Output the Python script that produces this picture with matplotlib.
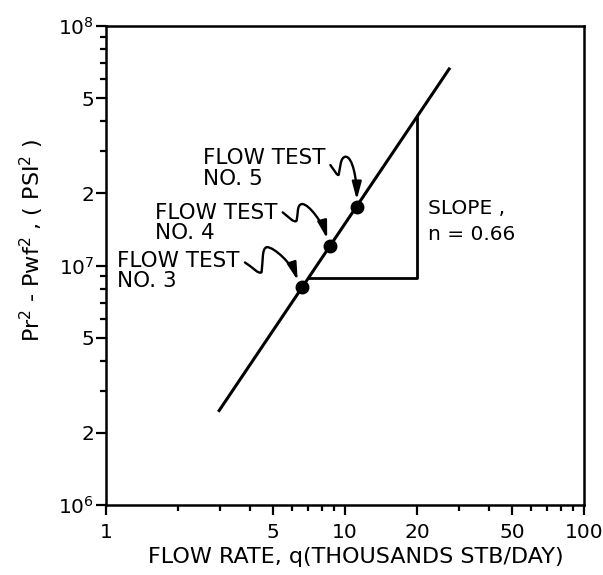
import matplotlib.pyplot as plt
import matplotlib.transforms as mtransforms
from matplotlib.path import Path
from matplotlib.patches import FancyArrowPatch

# ---------------------------
# Data
# ---------------------------
LINE_Q = [2.95, 27.5]            # fitted line end points, thousands STB/day
LINE_DP = [2.45e6, 6.7e7]        # Pr^2 - Pwf^2, psi^2

TEST_Q = [6.6, 8.65, 11.2]       # flow tests 3, 4, 5
TEST_DP = [8.1e6, 1.21e7, 1.76e7]
TEST_NAMES = ["FLOW TEST\nNO. 3", "FLOW TEST\nNO. 4", "FLOW TEST\nNO. 5"]

TRI_Q = [7.05, 20, 20]           # slope triangle
TRI_DP = [8.9e6, 8.9e6, 4.2e7]
SLOPE_TEXT = "SLOPE ,\nn = 0.66"

X_TICKS = [1, 5, 10, 20, 50, 100]
X_LABELS = ["1", "5", "10", "20", "50", "100"]
X_MINOR = [2, 3, 4, 6, 7, 8, 9, 30, 40, 60, 70, 80, 90]
Y_TICKS = [1e6, 2e6, 5e6, 1e7, 2e7, 5e7, 1e8]
Y_LABELS = [r"$\mathregular{10^6}$", "2", "5", r"$\mathregular{10^7}$", "2", "5",
            r"$\mathregular{10^8}$"]
Y_MINOR = [3e6, 4e6, 6e6, 7e6, 8e6, 9e6, 3e7, 4e7, 6e7, 7e7, 8e7, 9e7]

FS = 14.5

# ---------------------------
# Plot
# ---------------------------
fig = plt.figure(figsize=(6.03, 5.75), dpi=100)
ax = fig.add_axes([0.1758, 0.1217, 0.7927, 0.833])
ax.set_xscale("log")
ax.set_yscale("log")
ax.set_xlim(1, 100)
ax.set_ylim(1e6, 1e8)

ax.plot(LINE_Q, LINE_DP, color="black", lw=2.2, solid_capstyle="butt")
ax.plot(TRI_Q, TRI_DP, color="black", lw=2.0)
ax.plot(TEST_Q, TEST_DP, "o", color="black", markersize=9)

# squiggly leader arrows: offsets in points from each test point
# start -> dip -> hump -> arrow tip
squiggles = [
    [(-41, 18), (-36, 15), (-31, 9), (-29, 11),
     (-28, 18), (-29, 29), (-25, 29), (-20, 29), (-7, 17), (-3, 5)],
    [(-34, 24), (-30, 21), (-26, 16), (-24, 18),
     (-23, 22), (-24, 30), (-20, 30), (-15, 30), (-5, 16), (-2, 5)],
    [(-19, 30), (-16, 26), (-14, 22), (-13, 23),
     (-12, 27), (-12, 36), (-8, 36), (-3, 36), (0, 20), (0, 5)],
]
codes = [Path.MOVETO] + [Path.CURVE4] * 9
for q, dp, verts in zip(TEST_Q, TEST_DP, squiggles):
    trans = mtransforms.Affine2D().scale(fig.dpi / 72) + \
        mtransforms.ScaledTranslation(q, dp, ax.transData)
    arr = FancyArrowPatch(path=Path(verts, codes),
                          arrowstyle="-|>,head_length=0.75,head_width=0.2",
                          mutation_scale=14, color="black", lw=1.7,
                          transform=trans, clip_on=False)
    ax.add_artist(arr)

# test labels, placed relative to their points
text_offsets = [(-133, 26.5), (-126, 31), (-110.5, 42)]
for q, dp, name, off in zip(TEST_Q, TEST_DP, TEST_NAMES, text_offsets):
    ax.annotate(name, xy=(q, dp), xytext=off, textcoords="offset points",
                ha="left", va="top", fontsize=15.5, linespacing=1.03)

ax.text(22.2, 1.53e7, SLOPE_TEXT, fontsize=FS, ha="left", va="center",
        linespacing=1.45)

# axes styling
ax.set_xticks(X_TICKS, X_LABELS)
ax.set_xticks(X_MINOR, minor=True)
ax.set_yticks(Y_TICKS, Y_LABELS)
ax.set_yticks(Y_MINOR, minor=True)
ax.xaxis.set_minor_formatter(plt.NullFormatter())
ax.yaxis.set_minor_formatter(plt.NullFormatter())
ax.tick_params(which="both", direction="out", width=1.6, labelsize=FS)
ax.tick_params(which="major", length=7)
ax.tick_params(which="minor", length=4.5)
ax.tick_params(axis="y", pad=1.5)
ax.tick_params(axis="x", pad=6)
for sp in ax.spines.values():
    sp.set_linewidth(1.8)

ax.set_xlabel("FLOW RATE, q(THOUSANDS STB/DAY)", fontsize=16)
ax.xaxis.set_label_coords(0.523, -0.109)
ax.xaxis.label.set_va("center")
ax.set_ylabel(r"Pr$^{\mathregular{2}}$ - Pwf$^{\mathregular{2}}$ , ( PSI$^{\mathregular{2}}$ )",
              fontsize=16)
ax.yaxis.set_label_coords(-0.155, 0.553)
ax.yaxis.label.set_va("center")

fig.savefig("out.png", dpi=100)
